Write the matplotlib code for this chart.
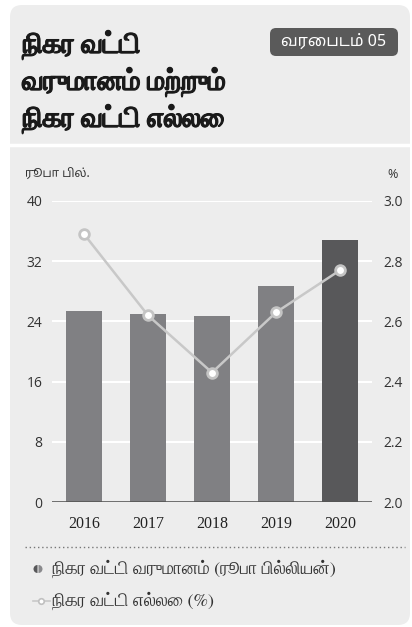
import matplotlib
matplotlib.use("Agg")
import matplotlib.pyplot as plt
import matplotlib.patheffects as pe
from matplotlib.patches import FancyBboxPatch, Wedge

# data
years = ["2016", "2017", "2018", "2019", "2020"]
income = [25.4, 25.0, 24.7, 28.7, 34.8]      # net interest income, Rs. bn
margin = [2.89, 2.62, 2.43, 2.63, 2.77]      # net interest margin, %
bar_colors = ["#808083", "#808083", "#808083", "#808083", "#58585a"]

title_lines = ["நிகர வட்டி", "வருமானம் மற்றும்", "நிகர வட்டி எல்லை"]
badge_text = "வரைபடம் 05"
left_unit = "ரூபா பில்."
legend_bar = "நிகர வட்டி வருமானம் (ரூபா பில்லியன்)"
legend_line = "நிகர வட்டி எல்லை (%)"

TAMIL_SANS = ["Noto Sans Tamil", "DejaVu Sans"]
TAMIL_SERIF = ["FreeSerif", "DejaVu Serif"]
TEXT = "#333333"

fig = plt.figure(figsize=(4.12, 6.27), dpi=100)

# background layer in pixel coordinates
bg = fig.add_axes([0, 0, 1, 1])
bg.set_xlim(0, 412)
bg.set_ylim(627, 0)
bg.axis("off")
bg.add_patch(FancyBboxPatch((10, 5), 400, 620, boxstyle="round,pad=0,rounding_size=12",
                            fc="#ededed", ec="none"))
bg.plot([10, 410], [145, 145], color="white", lw=2.5)

# the Tamil serif has no heavy cut, so thicken it with a stroke
for i, line in enumerate(title_lines):
    bg.text(22, 45 + i * 37, line, family=TAMIL_SERIF, weight="bold", fontsize=20,
            color="#1a1a1a", va="center", ha="left",
            path_effects=[pe.withStroke(linewidth=0.8, foreground="#1a1a1a")])

bg.add_patch(FancyBboxPatch((270, 28), 128, 28, boxstyle="round,pad=0,rounding_size=6",
                            fc="#5a5a5a", ec="none"))
bg.text(334, 42, badge_text, family=TAMIL_SANS, fontsize=11.5, color="white",
        ha="center", va="center")

bg.text(25, 174, left_unit, family=TAMIL_SANS, fontsize=8.5, color=TEXT, va="center")
bg.text(398, 174, "%", family="Open Sans", fontsize=9, color=TEXT, va="center", ha="right")

# dotted separator and legend
bg.plot([25, 405], [547, 547], color="#777777", lw=1, ls=(0, (1, 2)))
bg.add_patch(Wedge((37.5, 569), 4, 90, 270, fc="#58585a", ec="none"))
bg.add_patch(Wedge((38.5, 569), 4, -90, 90, fc="#8a8a8d", ec="none"))
bg.text(52, 569, legend_bar, family=TAMIL_SERIF, fontsize=13, color=TEXT, va="center")
bg.plot([33, 50], [601, 601], color="#c8c8c8", lw=1.2)
bg.plot([41], [601], "o", ms=4, mfc="white", mec="#c0c0c0", mew=1.2)
bg.text(52, 601, legend_line, family=TAMIL_SERIF, fontsize=13, color=TEXT, va="center")

# chart
ax = fig.add_axes([52 / 412, 1 - 502 / 627, 320 / 412, 301 / 627])
ax.set_facecolor("none")
x = list(range(len(years)))
ax.set_xlim(-0.5, len(years) - 0.5)
ax.set_ylim(0, 40)
ax.set_yticks(range(0, 41, 8))
ax.grid(axis="y", color="white", lw=1.5)
ax.set_axisbelow(True)
ax.bar(x, income, width=0.55, color=bar_colors, zorder=2)
ax.axhline(0, color="#555555", lw=1.2, zorder=3)
for s in ax.spines.values():
    s.set_visible(False)
ax.set_xticks(x)
ax.set_xticklabels(years, family="Liberation Serif", fontsize=11.5, color="#222222")
ax.tick_params(axis="x", length=0, pad=10)
ax.tick_params(axis="y", length=0, pad=7, labelsize=10, labelcolor=TEXT)
for lab in ax.get_yticklabels():
    lab.set_family("Open Sans")

ax2 = ax.twinx()
ax2.set_ylim(2.0, 3.0)
ax2.set_yticks([2.0, 2.2, 2.4, 2.6, 2.8, 3.0])
ax2.set_yticklabels(["%.1f" % v for v in ax2.get_yticks()], family="Open Sans")
ax2.tick_params(axis="y", length=0, pad=8, labelsize=10, labelcolor=TEXT)
for s in ax2.spines.values():
    s.set_visible(False)
ax2.plot(x, margin, color="#c8c8c8", lw=1.8, marker="o", ms=7, mfc="white",
         mec="#c4c4c4", mew=2, zorder=4)

fig.savefig("out.png", dpi=100)
